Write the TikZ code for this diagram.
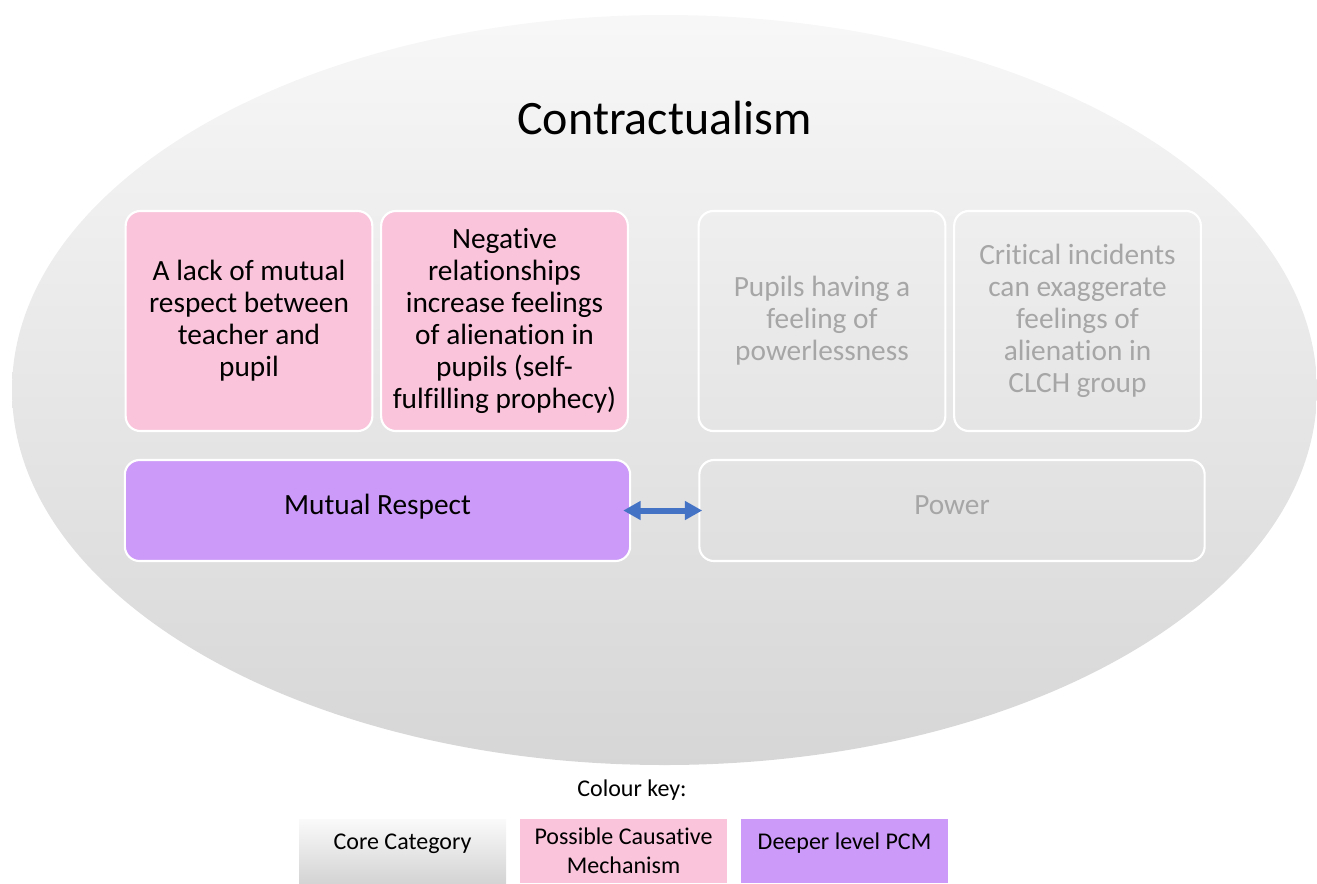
\documentclass[tikz,border=0pt]{standalone}
\usepackage{fontspec}
\setmainfont{Carlito}[Ligatures=NoCommon]
\usetikzlibrary{positioning,arrows.meta,shapes.geometric}

\definecolor{pcmpink}{RGB}{250,196,218}
\definecolor{deeppurple}{RGB}{204,154,248}
\definecolor{linkblue}{RGB}{68,114,196}
\definecolor{coregrey}{RGB}{166,166,166}

\tikzset{
  catbox/.style={draw=white, line width=1.6pt, rounded corners=11pt,
    align=center, inner sep=0pt, minimum width=185pt, minimum height=165pt,
    font=\fontsize{22}{24}\selectfont},
  pcmbox/.style={catbox, fill=pcmpink},
  corebox/.style={catbox, text=coregrey},
  widebox/.style={minimum width=379pt, minimum height=75.75pt,
    text height=16pt, text depth=10.5pt},
  keybox/.style={inner sep=0pt, minimum width=155.25pt, minimum height=48pt,
    align=center, font=\fontsize{18}{22}\selectfont},
  onerow/.style={text height=10pt, text depth=12pt},
  twoway/.style={{Triangle[width=13.5pt,length=13pt]}-{Triangle[width=13.5pt,length=13pt]},
    line width=4.5pt, linkblue, shorten <=-6pt, shorten >=-3pt}
}

\begin{document}
\begin{tikzpicture}[x=0.75pt,y=-0.75pt]
  \useasboundingbox (0,0) rectangle (1317,883);

  % big oval behind everything
  \node[ellipse, inner sep=0pt, minimum width=978.75pt, minimum height=562.5pt,
        top color=black!3, bottom color=black!16] (oval) at (664.5,390) {};
  \node[font=\fontsize{36}{40}\selectfont] (title) at (664.5,118) {Contractualism};

  % top row
  \node[pcmbox] (lack) at (249,321)
    {A lack of mutual\\respect between\\teacher and\\pupil};
  \node[pcmbox] (negative) at (504.5,321)
    {Negative\\relationships\\increase feelings\\of alienation in\\pupils (self-\\fulfilling prophecy)};
  \node[corebox] (powerless) at (822,321)
    {Pupils having a\\feeling of\\powerlessness};
  \node[corebox] (incidents) at (1077.5,321)
    {Critical incidents\\can exaggerate\\feelings of\\alienation in\\CLCH group};

  % bottom row
  \node[catbox, widebox, fill=deeppurple] (mutual) at (377.5,510.5) {Mutual Respect};
  \node[corebox, widebox] (power) at (952,510.5) {Power};

  \draw[twoway] (mutual.east) -- (power.west);

  % key
  \node[font=\fontsize{18}{22}\selectfont] (keytitle) at (632,790) {Colour key:};
  \node[keybox, onerow, top color=black!2, bottom color=black!17] (keycore) at (402.5,851) {Core Category};
  \node[keybox, fill=pcmpink] (keypcm) at (623.5,851) {Possible Causative\\Mechanism};
  \node[keybox, onerow, fill=deeppurple] (keydeep) at (844.5,851) {Deeper level PCM};
\end{tikzpicture}
\end{document}
